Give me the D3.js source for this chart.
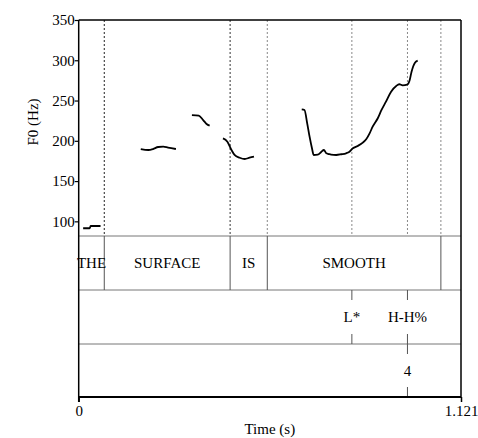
<!DOCTYPE html>
<html><head><meta charset="utf-8">
<script src="https://cdn.jsdelivr.net/npm/d3@7"></script>
<style>body{margin:0;background:#fff}svg{display:block}</style>
</head><body>
<script>
// ---- data ----
const duration = 1.121;
const yTicks = [100, 150, 200, 250, 300, 350];
const xTickLabels = ["0", "1.121"];
// pitch segments: [time (s), F0 (Hz)]
const seg1 = [[0.013,91.4],[0.032,91.4],[0.035,94.2],[0.064,94.2]];
const seg2 = [[0.182,189.8],[0.204,188.6],[0.218,189.8],[0.233,192.3],[0.248,192.7],[0.262,191.5],[0.285,189.8]];
const seg3 = [[0.332,232.0],[0.352,231.2],[0.365,225.8],[0.375,220.9],[0.384,218.8]];
const seg4 = [[0.423,203.1],[0.436,198.9],[0.448,188.6],[0.457,182.4],[0.472,179.0],[0.487,177.4],[0.501,179.0],[0.514,180.3]];
const seg5 = [[0.654,239.1],[0.662,238.3],[0.670,221.7],[0.677,205.1],[0.684,190.7],[0.689,182.4],[0.701,182.8],[0.711,186.1],[0.719,188.6],[0.726,184.5],[0.733,183.6],[0.740,182.8],[0.755,182.4],[0.770,183.3],[0.784,184.5],[0.794,186.5],[0.804,190.7],[0.818,193.6],[0.833,197.7],[0.843,201.9],[0.853,209.3],[0.862,217.5],[0.877,228.0],[0.888,238.3],[0.901,248.6],[0.916,261.0],[0.931,268.1],[0.940,270.2],[0.950,268.9],[0.963,269.7],[0.970,274.6],[0.976,285.8],[0.986,297.0],[0.994,299.5]];
const pitchSegments = [seg1, seg2, seg3, seg4, seg5];
// word tier: boundaries and labels
const wordBounds = [0.075, 0.444, 0.553, 1.062];
const words = [["THE",0,0.075],["SURFACE",0.075,0.444],["IS",0.444,0.553],["SMOOTH",0.553,1.062]];
// tone tier (points)
const tones = [["L*",0.801],["H-H%",0.964]];
// break tier (points)
const breaks = [["4",0.964]];
// dashed lines in pitch area
const dashTimes = [0.075, 0.444, 0.553, 0.801, 0.964, 1.062];
const dashColors = ["#222","#333","#888","#888","#888","#888"];

// ---- layout ----
const W = 478, H = 438;
const L = 78.7, R = 461, T = 20, P = 236, T1 = 290, T2 = 344, B = 397;
const FONT = "Liberation Serif, Times New Roman, serif";
const x = d3.scaleLinear().domain([0, duration]).range([L, R]);
const y = d3.scaleLinear().domain([81.8, 350]).range([P, T]);

const svg = d3.select("body").append("svg").attr("width", W).attr("height", H)
  .attr("font-family", FONT);

// dashed boundary lines in pitch area
svg.append("g").selectAll("line").data(dashTimes).join("line")
  .attr("x1", d => x(d)).attr("x2", d => x(d)).attr("y1", T).attr("y2", P)
  .attr("stroke", (d,i) => dashColors[i]).attr("stroke-width", 1).attr("stroke-dasharray", "2,2");

// tier horizontal lines
svg.append("g").selectAll("line").data([P, T1, T2]).join("line")
  .attr("x1", L).attr("x2", R).attr("y1", d => d).attr("y2", d => d)
  .attr("stroke", "#777").attr("stroke-width", 1);

// word tier boundaries
svg.append("g").selectAll("line").data(wordBounds).join("line")
  .attr("x1", d => x(d)).attr("x2", d => x(d)).attr("y1", P).attr("y2", T1)
  .attr("stroke", "#555").attr("stroke-width", 1);
svg.append("g").selectAll("text").data(words).join("text")
  .attr("x", d => x((d[1] + d[2]) / 2)).attr("y", (P + T1) / 2)
  .attr("text-anchor", "middle").attr("dominant-baseline", "central")
  .attr("font-family", FONT).attr("font-size", 15).attr("fill", "#000").text(d => d[0]);

// point tiers
function pointTier(data, top, bottom) {
  const g = svg.append("g");
  g.selectAll("line.a").data(data).join("line").attr("class","a")
    .attr("x1", d => x(d[1])).attr("x2", d => x(d[1])).attr("y1", top).attr("y2", top + 10)
    .attr("stroke", "#555").attr("stroke-width", 1);
  g.selectAll("line.b").data(data).join("line").attr("class","b")
    .attr("x1", d => x(d[1])).attr("x2", d => x(d[1])).attr("y1", bottom - 10).attr("y2", bottom)
    .attr("stroke", "#555").attr("stroke-width", 1);
  g.selectAll("text").data(data).join("text")
    .attr("x", d => x(d[1])).attr("y", (top + bottom) / 2)
    .attr("text-anchor", "middle").attr("dominant-baseline", "central")
    .attr("font-family", FONT).attr("font-size", 15).attr("fill", "#000").text(d => d[0]);
}
pointTier(tones, T1, T2);
pointTier(breaks, T2, B);

// pitch contour
const line = d3.line().x(d => x(d[0])).y(d => y(d[1])).curve(d3.curveMonotoneX);
svg.append("g").selectAll("path").data(pitchSegments).join("path")
  .attr("d", line).attr("fill", "none").attr("stroke", "#000").attr("stroke-width", 1.8)
  .attr("stroke-linejoin", "round");

// frame
svg.append("line").attr("x1", L).attr("x2", R).attr("y1", T).attr("y2", T).attr("stroke", "#000").attr("stroke-width", 1.5);
svg.append("line").attr("x1", R).attr("x2", R).attr("y1", T).attr("y2", B).attr("stroke", "#000").attr("stroke-width", 1.5);

// y axis
const yAxis = d3.axisLeft(y).tickValues(yTicks).tickSize(4).tickSizeOuter(0);
const gy = svg.append("g").attr("transform", `translate(${L},0)`).call(yAxis)
  .attr("font-family", FONT).attr("font-size", 15);
gy.select(".domain").remove();
gy.selectAll(".tick line").attr("stroke", "#000").attr("stroke-width", 1.2);
gy.selectAll(".tick text").attr("x", -4).attr("dy", "0.32em").attr("fill", "#000");
svg.append("line").attr("x1", L).attr("x2", L).attr("y1", T).attr("y2", B + 5).attr("stroke", "#000").attr("stroke-width", 1.5);

// x axis
const xAxis = d3.axisBottom(x).tickValues([0, duration]).tickSize(5).tickSizeOuter(0)
  .tickFormat((d,i) => xTickLabels[i]);
const gx = svg.append("g").attr("transform", `translate(0,${B})`).call(xAxis)
  .attr("font-family", FONT).attr("font-size", 15);
gx.select(".domain").attr("stroke", "#000").attr("stroke-width", 2).attr("d", `M${L},0H${R}`);
gx.selectAll(".tick line").attr("stroke", "#000").attr("stroke-width", 1.5);
gx.selectAll(".tick text").attr("y", 8).attr("dy", "0.71em").attr("fill", "#000");

// axis titles
svg.append("text").attr("x", (L + R) / 2).attr("y", 434).attr("text-anchor", "middle")
  .attr("font-family", FONT).attr("font-size", 15).attr("fill", "#000").text("Time (s)");
svg.append("text").attr("transform", "translate(38,122) rotate(-90)").attr("text-anchor", "middle")
  .attr("font-family", FONT).attr("font-size", 15).attr("fill", "#000").text("F0 (Hz)");
</script>
</body></html>
